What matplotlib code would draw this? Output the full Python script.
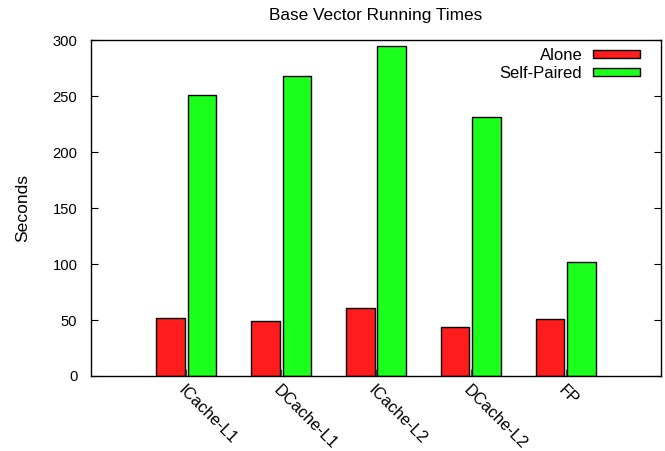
import numpy
import matplotlib
matplotlib.use("Agg")
import matplotlib.pyplot

matplotlib.rcParams["font.family"] = ["Liberation Sans", "DejaVu Sans"]
matplotlib.rcParams["font.size"] = 11

categories = ["ICache-L1", "DCache-L1", "ICache-L2", "DCache-L2", "FP"]
alone = [52, 49, 61, 44, 51]
self_paired = [251, 268, 295, 232, 102]

positions = numpy.arange(len(categories))
bar_width = 0.3
offset = 0.165

figure = matplotlib.pyplot.figure(figsize=(6.65, 4.51), dpi=100)
axis = figure.add_axes([0.1373, 0.1663, 0.8562, 0.7439])

axis.bar(positions - offset, alone, width=bar_width, color="#ff1c1c",
         edgecolor="black", linewidth=1, label="Alone", zorder=3)
axis.bar(positions + offset, self_paired, width=bar_width, color="#1cff1c",
         edgecolor="black", linewidth=1, label="Self-Paired", zorder=3)

axis.set_xlim(-1, len(categories))
axis.set_ylim(0, 300)
axis.set_yticks(range(0, 301, 50))
axis.set_xticks(positions)
axis.set_xticklabels(categories, rotation=-45, ha="left", va="top",
                     rotation_mode="anchor", fontsize=11.8)

axis.tick_params(axis="y", direction="in", length=5, right=True, pad=10,
                 labelsize=10.6)
axis.tick_params(axis="x", direction="in", length=5, pad=5, color="#555555")
for spine in axis.spines.values():
    spine.set_linewidth(1)
    spine.set_zorder(4)

axis.set_ylabel("Seconds", labelpad=16, fontsize=12.6)
axis.set_title("Base Vector Running Times", pad=15, fontsize=12.4)

axis.legend(loc="upper right", bbox_to_anchor=(0.9636, 0.978), frameon=False,
            markerfirst=False, fontsize=12, handlelength=2.82,
            handleheight=0.36, handletextpad=0.64, labelspacing=0.18,
            borderpad=0, borderaxespad=0)

figure.savefig("out.png", dpi=100)
